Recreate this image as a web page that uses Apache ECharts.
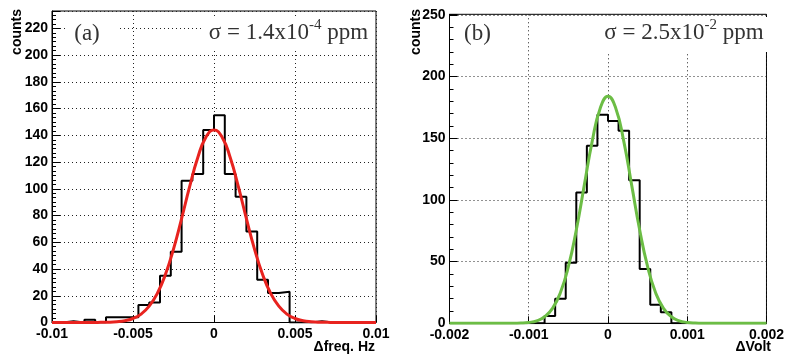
<!DOCTYPE html>
<html><head><meta charset="utf-8">
<script src="https://cdn.jsdelivr.net/npm/echarts@6/dist/echarts.min.js"></script>
<style>html,body{margin:0;padding:0;background:#fff}#c{width:787px;height:354px}</style>
</head><body><div id="c"></div>
<script>
// ---- Panel (a): frequency residuals ----
const freqRange = [-0.01, 0.01];
const freqCounts = [0,1,0,2,0,4,4,4,13,15,35,53,106,111,144,155,111,94,68,32,22,23,0,0,1,0,0,0,0,0];
const freqFitX = [-0.01,-0.0075,-0.007,-0.0065,-0.006,-0.0055,-0.005,-0.0045,-0.004,-0.0035,-0.003,-0.0025,-0.002,-0.0015,-0.001,-0.0005,0,0.0005,0.001,0.0015,0.002,0.0025,0.003,0.0035,0.004,0.0045,0.005,0.0055,0.006,0.0065,0.007,0.0075,0.01];
const freqFitY = [0,0.03,0.1,0.2,0.56,1.35,3.0,6.3,12.2,21.7,35.9,54.9,77.7,101.8,123.4,138.6,144,138.6,123.4,101.8,77.7,54.9,35.9,21.7,12.2,6.3,3.0,1.35,0.56,0.2,0.1,0.03,0];
const freqYMax = 233;
const freqYStep = 20;
const freqXStep = 0.005;

// ---- Panel (b): voltage residuals ----
const voltRange = [-0.002, 0.002];
const voltCounts = [0,0,0,0,0,0,0,0,0,6,20,49,106,144,169,164,156,116,44,15,9,0,0,0,0,0,0,0,0,0];
const voltFitX = [-0.002,-0.0012,-0.0011,-0.001,-0.0009,-0.0008,-0.0007,-0.0006,-0.0005,-0.0004,-0.0003,-0.0002,-0.0001,0,0.0001,0.0002,0.0003,0.0004,0.0005,0.0006,0.0007,0.0008,0.0009,0.001,0.0011,0.0012,0.002];
const voltFitY = [0,0.05,0.2,0.7,2.0,5.3,12.1,24.9,45.9,75.6,111.6,147.3,174.0,184,174.0,147.3,111.6,75.6,45.9,24.9,12.1,5.3,2.0,0.7,0.2,0.05,0];
const voltYMax = 250.5;
const voltYStep = 50;
const voltXStep = 0.001;

// ---- Texts ----
const yTitle = 'counts';
const xTitles = ['\u0394freq. Hz', '\u0394Volt'];
const panelTags = ['(a)', '(b)'];
const sigmaMain = ['\u03c3 = 1.4x10', '\u03c3 = 2.5x10'];
const sigmaExp = ['-4', '-2'];
const sigmaUnit = ' ppm';

function stepData(counts, range) {
  const w = (range[1] - range[0]) / counts.length;
  const d = counts.map((c, i) => [range[0] + i * w, c]);
  d.push([range[1], counts[counts.length - 1]]);
  return d;
}
function zip(xs, ys) { return xs.map((x, i) => [x, ys[i]]); }

const labelFont = {color:'#000', fontFamily:'Liberation Sans', fontWeight:'bold', fontSize:14};
const gridLine = {show:true, lineStyle:{color:'#222', width:1, type:[1,3]}};
const fmtX = v => String(Math.round(v * 1e6) / 1e6);

function xAxis(gi, range, step) {
  return {type:'value', gridIndex:gi, min:range[0], max:range[1], interval:step,
    axisLine:{show:true, onZero:false, lineStyle:{color:'#000', width:1}},
    axisTick:{show:true, inside:true, length:7, lineStyle:{color:'#000'}},
    axisLabel:Object.assign({margin:5, formatter:fmtX, showMinLabel:true, showMaxLabel:true}, labelFont),
    splitLine:gridLine};
}
function yAxis(gi, max, step, minorSplit) {
  return {type:'value', gridIndex:gi, min:0, max:max, interval:step,
    axisLine:{show:true, onZero:false, lineStyle:{color:'#000', width:1}},
    axisTick:{show:true, inside:true, length:8, lineStyle:{color:'#000'}},
    minorTick:{show:true, splitNumber:minorSplit, length:4, lineStyle:{color:'#000'}},
    axisLabel:Object.assign({margin:4, showMaxLabel:false}, labelFont),
    splitLine:gridLine};
}
function hist(i, counts, range) {
  return {type:'line', xAxisIndex:i, yAxisIndex:i, data:stepData(counts, range), step:'end',
    showSymbol:false, lineStyle:{color:'#000', width:2}, clip:true, z:2};
}
function fit(i, xs, ys, color) {
  return {type:'line', xAxisIndex:i, yAxisIndex:i, data:zip(xs, ys), smooth:true,
    showSymbol:false, lineStyle:{color:color, width:3}, clip:true, z:3};
}
function sigmaText(i, cx) {
  return {type:'text', x:cx, y:33, z:12,
    style:{text:'{m|' + sigmaMain[i] + '}{s|' + sigmaExp[i] + '}{m|' + sigmaUnit + '}',
      align:'center', verticalAlign:'middle', textAlign:'center', textVerticalAlign:'middle',
      rich:{m:{fontFamily:'Liberation Serif', fontSize:23, lineHeight:30, fill:'#333', color:'#333'},
            s:{fontFamily:'Liberation Serif', fontSize:15, lineHeight:15, verticalAlign:'top', fill:'#333', color:'#333'}}}};
}
function tagText(i, cx) {
  return {type:'text', x:cx, y:34, z:12,
    style:{text:panelTags[i], font:'23px "Liberation Serif"', fill:'#333',
      align:'center', verticalAlign:'middle', textAlign:'center', textVerticalAlign:'middle'}};
}
function titleY(x) {
  return {type:'text', x:x, y:9, rotation:Math.PI/2, z:12,
    style:{text:yTitle, font:'bold 14px "Liberation Sans"', fill:'#000',
      align:'right', verticalAlign:'middle', textAlign:'right', textVerticalAlign:'middle'}};
}
function titleX(i, xr) {
  return {type:'text', x:xr, y:347, z:12,
    style:{text:xTitles[i], font:'bold 14px "Liberation Sans"', fill:'#000',
      align:'right', verticalAlign:'middle', textAlign:'right', textVerticalAlign:'middle'}};
}
function whiteBox(x, y, w, h) {
  return {type:'rect', shape:{x:x, y:y, width:w, height:h}, style:{fill:'#fff'}, z:10, silent:true};
}

const chart = echarts.init(document.getElementById('c'), null, {renderer:'canvas'});
chart.setOption({
  animation:false,
  backgroundColor:'#fff',
  grid:[
    {left:52, top:11, width:324, height:311.5, show:true, borderColor:'#000', borderWidth:1, backgroundColor:'transparent'},
    {left:449.5, top:14.3, width:322, height:309, show:true, borderColor:'#000', borderWidth:1, backgroundColor:'transparent'}
  ],
  xAxis:[xAxis(0, freqRange, freqXStep), xAxis(1, voltRange, voltXStep)],
  yAxis:[yAxis(0, freqYMax, freqYStep, 6), yAxis(1, voltYMax, voltYStep, 5)],
  series:[
    hist(0, freqCounts, freqRange),
    fit(0, freqFitX, freqFitY, '#e8231f'),
    hist(1, voltCounts, voltRange),
    fit(1, voltFitX, voltFitY, '#6cbd45')
  ],
  graphic:[
    whiteBox(66, 17, 54, 33),
    whiteBox(201, 19, 174, 32),
    whiteBox(595, 17, 175.5, 35),
    tagText(0, 87), sigmaText(0, 288.5),
    tagText(1, 477.5), sigmaText(1, 684),
    titleY(17), titleY(416),
    titleX(0, 375), titleX(1, 771)
  ]
});
</script>
</body></html>
